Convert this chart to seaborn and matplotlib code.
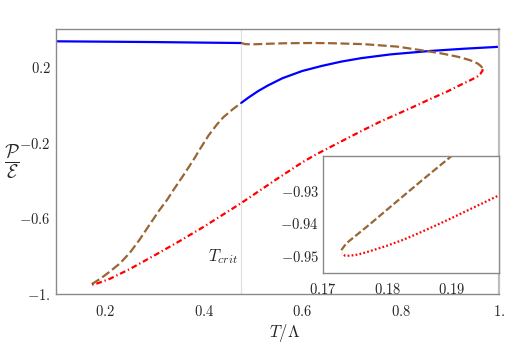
import numpy as np
import pandas as pd
import matplotlib
matplotlib.use("Agg")
import matplotlib.pyplot as plt
import seaborn as sns

#-------------------------------
# DATA
#-------------------------------
T_crit = 0.476

# stable low-T branch (blue, solid)
blue_low_T = [0.1, 0.2, 0.3, 0.4, 0.476]
blue_low_P = [0.335, 0.333, 0.331, 0.328, 0.326]

# stable high-T branch (blue, solid)
blue_high_T = [0.476, 0.49, 0.51, 0.53, 0.56, 0.60, 0.64, 0.68, 0.72, 0.78, 0.86, 0.93, 1.0]
blue_high_P = [0.009, 0.036, 0.071, 0.101, 0.140, 0.178, 0.205, 0.228, 0.246, 0.266, 0.284, 0.296, 0.306]

# metastable upper branch (brown, dashed)
brown_up_T = [0.476, 0.485, 0.50, 0.53, 0.57, 0.62, 0.658, 0.725, 0.793, 0.847, 0.885,
              0.915, 0.935, 0.949, 0.958, 0.964, 0.967]
brown_up_P = [0.326, 0.320, 0.319, 0.322, 0.325, 0.326, 0.325, 0.320, 0.307, 0.286, 0.270,
              0.254, 0.240, 0.228, 0.215, 0.202, 0.188]

# unstable branch (red, dash-dot), from right turning point to left one
red_T = [0.967, 0.966, 0.962, 0.956, 0.943, 0.929, 0.895, 0.861, 0.827, 0.793, 0.759,
         0.725, 0.692, 0.628, 0.60, 0.55, 0.476, 0.40, 0.35, 0.30, 0.25, 0.21, 0.197,
         0.1935, 0.19, 0.1876, 0.185, 0.1825, 0.18, 0.1773, 0.1755, 0.1742, 0.1734, 0.1729]
red_P = [0.188, 0.178, 0.163, 0.149, 0.131, 0.114, 0.070, 0.031, -0.010, -0.050, -0.089,
         -0.133, -0.177, -0.263, -0.305, -0.390, -0.520, -0.645, -0.722, -0.796, -0.868,
         -0.919, -0.9318, -0.9351, -0.9384, -0.9406, -0.9429, -0.9450, -0.9468, -0.9485,
         -0.9495, -0.9499, -0.9499, -0.9492]

# metastable lower branch (brown, dashed), from left turning point up to T_crit
brown_low_T = [0.1728, 0.1736, 0.1773, 0.1814, 0.1856, 0.19, 0.20, 0.21, 0.23, 0.25, 0.27,
               0.29, 0.31, 0.3255, 0.34, 0.36, 0.38, 0.393, 0.41, 0.427, 0.44, 0.46, 0.476]
brown_low_P = [-0.9482, -0.9461, -0.9402, -0.9334, -0.9265, -0.9194, -0.900, -0.880,
               -0.838, -0.782, -0.712, -0.634, -0.557, -0.503, -0.445, -0.368, -0.288,
               -0.232, -0.162, -0.104, -0.066, -0.022, 0.009]

main_xticks = [0.2, 0.4, 0.6, 0.8, 1.0]
main_xlabels = ["0.2", "0.4", "0.6", "0.8", "1."]
main_yticks = [0.2, -0.2, -0.6, -1.0]
main_ylabels = ["0.2", "-0.2", "-0.6", "-1."]
inset_xticks = [0.17, 0.18, 0.19]
inset_xlabels = ["0.17", "0.18", "0.19"]
inset_yticks = [-0.93, -0.94, -0.95]
inset_ylabels = ["-0.93", "-0.94", "-0.95"]

#-------------------------------
# PLOT
#-------------------------------
sns.set_style("white")
plt.rcParams["mathtext.fontset"] = "cm"
plt.rcParams["font.family"] = ["DejaVu Serif"]

BLUE = "#0000ff"
BROWN = "#996633"
RED = "#ff0000"
FRAME = "#8a8a8a"

fig = plt.figure(figsize=(5.07, 3.49), dpi=100)
ax = fig.add_axes([0.1105, 0.1576, 0.8738, 0.7593])

ax.axvline(T_crit, color="#e0e0e0", lw=0.9, zorder=0)

def curve(a, T, P, color, ls, lw=1.6):
    sns.lineplot(x=T, y=P, ax=a, sort=False, estimator=None, color=color,
                 linestyle=ls, lw=lw)

curve(ax, blue_low_T, blue_low_P, BLUE, "-")
curve(ax, blue_high_T, blue_high_P, BLUE, "-")
curve(ax, brown_up_T, brown_up_P, BROWN, (0, (4, 1.6)))
curve(ax, brown_low_T, brown_low_P, BROWN, (0, (4, 1.6)))
curve(ax, red_T, red_P, RED, (0, (2.6, 1.3, 0.6, 1.3)))

ax.set_xlim(0.1, 1.0)
ax.set_ylim(-1.0, 0.4)
ax.set_xticks(main_xticks)
ax.set_xticklabels(["$%s$" % s for s in main_xlabels], fontsize=10.5)
ax.set_yticks(main_yticks)
ax.set_yticklabels(["$%s$" % s for s in main_ylabels], fontsize=10.5)
ax.tick_params(axis="x", direction="in", length=3, width=0.8, color=FRAME, pad=7)
ax.tick_params(axis="y", direction="out", length=3, width=0.8, color=FRAME, pad=1)
for side in ["left", "bottom", "top"]:
    ax.spines[side].set_color(FRAME)
    ax.spines[side].set_linewidth(1.0)
ax.spines["right"].set_color("#bdbdbd")
ax.spines["right"].set_linewidth(1.6)

ax.set_xlabel(r"$T/\Lambda$", fontsize=12, labelpad=1)
ax.xaxis.set_label_coords(0.515, -0.105)
ax.set_ylabel(r"$\dfrac{\mathcal{P}}{\mathcal{E}}$", fontsize=13.5, rotation=0,
              ha="center", va="center")
ax.yaxis.set_label_coords(-0.1, 0.5)
ax.text(0.44, -0.80, r"$T_{crit}$", fontsize=12, ha="center", va="center")

# inset zoom on the left turning point
ins = fig.add_axes([0.6377, 0.2186, 0.3465, 0.3344])
ins.set_facecolor("white")
curve(ins, brown_low_T, brown_low_P, BROWN, (0, (3.2, 1.3)))
curve(ins, red_T, red_P, RED, (0, (0.8, 1.0)))
ins.set_xlim(0.17, 0.1974)
ins.set_ylim(-0.9551, -0.9194)
ins.set_xticks(inset_xticks)
ins.set_xticklabels(["$%s$" % s for s in inset_xlabels], fontsize=10.5)
ins.set_yticks(inset_yticks)
ins.set_yticklabels(["$%s$" % s for s in inset_ylabels], fontsize=10.5)
ins.tick_params(direction="in", length=3, width=0.8, color=FRAME)
ins.tick_params(axis="x", pad=7)
ins.tick_params(axis="y", pad=3)
for side in ins.spines.values():
    side.set_color(FRAME)
    side.set_linewidth(1.0)
ins.set_xlabel("")
ins.set_ylabel("")

fig.savefig("out.png", dpi=100)
